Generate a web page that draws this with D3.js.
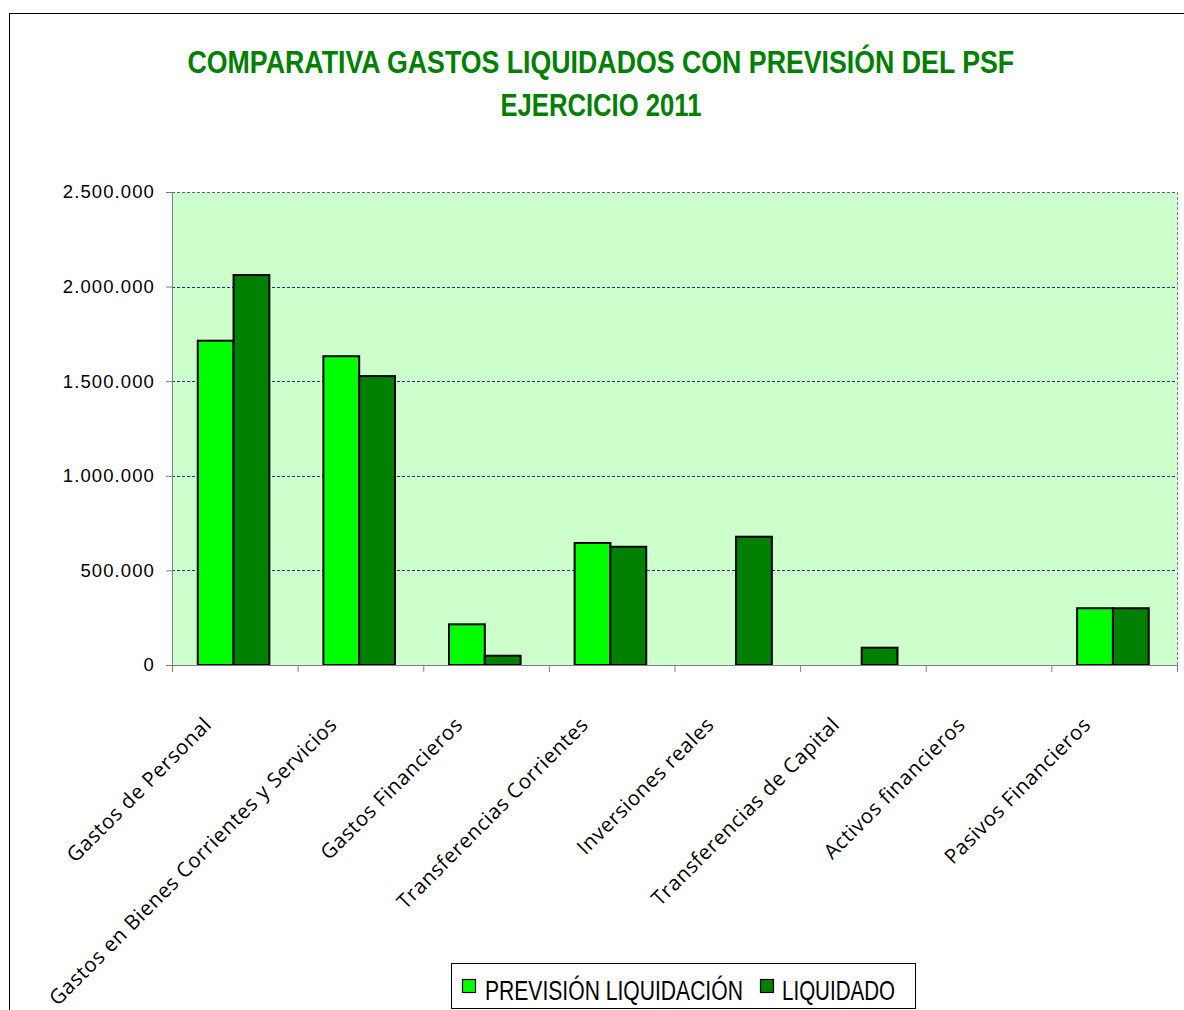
<!DOCTYPE html>
<html>
<head>
<meta charset="utf-8">
<script src="https://cdn.jsdelivr.net/npm/d3@7"></script>
<style>
  body { margin: 0; background: #fff; }
  svg { display: block; }
</style>
</head>
<body>
<div id="chart"></div>
<script>
// Data
const categories = [
  "Gastos de Personal",
  "Gastos en Bienes Corrientes y Servicios",
  "Gastos Financieros",
  "Transferencias Corrientes",
  "Inversiones reales",
  "Transferencias de Capital",
  "Activos financieros",
  "Pasivos Financieros"
];
const seriesNames = ["PREVISIÓN LIQUIDACIÓN", "LIQUIDADO"];
const prevision = [1714000, 1632000, 215000, 645000, 0, 0, 0, 300000];
const liquidado = [2061000, 1527000, 49000, 625000, 678000, 91500, 0, 300000];
const yTicks = [0, 500000, 1000000, 1500000, 2000000, 2500000];
const titleLines = ["COMPARATIVA GASTOS LIQUIDADOS CON PREVISIÓN DEL PSF", "EJERCICIO 2011"];

const WIDTH = 1184, HEIGHT = 1010;
const plot = { left: 172, top: 192, right: 1177, bottom: 665 };
const colors = ["#00ff00", "#008000"];

const fmt = d3.formatLocale({ decimal: ",", thousands: ".", grouping: [3], currency: ["", ""] }).format(",d");

// squeeze a text horizontally to a given width (emulates the narrow font)
function squeeze(sel, x, yPos, width, anchor) {
  sel.each(function () {
    const len = this.getComputedTextLength();
    const k = width / len;
    const x0 = anchor === "middle" ? x - width / 2 : x;
    d3.select(this)
      .attr("text-anchor", "start")
      .attr("x", 0).attr("y", 0)
      .attr("transform", `translate(${x0},${yPos}) scale(${k},1)`);
  });
}

const svg = d3.select("#chart").append("svg")
  .attr("width", WIDTH)
  .attr("height", HEIGHT);

// outer chart frame (extends past the right/bottom edges)
svg.append("rect")
  .attr("x", 9.5).attr("y", 13.5)
  .attr("width", 1300).attr("height", 1100)
  .attr("fill", "#fff").attr("stroke", "#000").attr("stroke-width", 1);

// title
const titleWidths = [827, 201];
const titleBase = [73, 116];
svg.append("g").selectAll("text")
  .data(titleLines)
  .join("text")
  .attr("font-family", "'Liberation Sans', Arial, sans-serif")
  .attr("font-weight", "bold")
  .attr("font-size", 31)
  .attr("fill", "#008000")
  .text(d => d)
  .each(function (d, i) {
    squeeze(d3.select(this), 601, titleBase[i], titleWidths[i], "middle");
  });

// scales
const x = d3.scaleBand()
  .domain(categories)
  .range([plot.left, plot.right]);
const bw = x.bandwidth();
const xSub = d3.scaleBand()
  .domain(seriesNames)
  .range([bw * 0.205, bw * 0.775]);
const y = d3.scaleLinear()
  .domain([0, 2500000])
  .range([plot.bottom, plot.top]);

// plot background
svg.append("rect")
  .attr("x", plot.left).attr("y", plot.top)
  .attr("width", plot.right - plot.left)
  .attr("height", plot.bottom - plot.top)
  .attr("fill", "#ccffcc");

// gridlines
svg.append("g")
  .selectAll("line")
  .data(yTicks.filter(d => d > 0))
  .join("line")
  .attr("x1", plot.left).attr("x2", plot.right)
  .attr("y1", d => Math.round(y(d)) + 0.5)
  .attr("y2", d => Math.round(y(d)) + 0.5)
  .attr("stroke", d => d === 2500000 ? "#5a6488" : "#22308f")
  .attr("stroke-dasharray", "3,2")
  .attr("stroke-width", 1);

// plot border (right side dashed gray)
svg.append("line")
  .attr("x1", plot.right + 0.5).attr("x2", plot.right + 0.5)
  .attr("y1", plot.top).attr("y2", plot.bottom)
  .attr("stroke", "#808080")
  .attr("stroke-dasharray", "3,2");

// bars
const rows = categories.map((c, i) => ({ cat: c, values: [prevision[i], liquidado[i]] }));
svg.append("g")
  .selectAll("g")
  .data(rows)
  .join("g")
  .attr("transform", d => `translate(${x(d.cat)},0)`)
  .selectAll("rect")
  .data(d => d.values.map((v, k) => ({ key: seriesNames[k], v, k })).filter(e => e.v > 0))
  .join("rect")
  .attr("x", d => xSub(d.key))
  .attr("y", d => y(d.v))
  .attr("width", xSub.bandwidth())
  .attr("height", d => y(0) - y(d.v))
  .attr("fill", d => colors[d.k])
  .attr("stroke", "#000")
  .attr("stroke-width", 2);

// y axis
const yAxis = svg.append("g")
  .attr("transform", `translate(${plot.left},0)`)
  .call(d3.axisLeft(y).tickValues(yTicks).tickFormat(fmt).tickSize(6).tickPadding(11));
yAxis.select(".domain").attr("stroke", "#808080");
yAxis.selectAll(".tick line").attr("stroke", "#808080");
yAxis.selectAll(".tick text")
  .attr("font-family", "'Liberation Sans', Arial, sans-serif")
  .attr("font-size", 18.5)
  .attr("letter-spacing", 1.1)
  .attr("fill", "#000");

// x axis: ticks on category boundaries
const xAxis = svg.append("g");
xAxis.append("line")
  .attr("x1", plot.left).attr("x2", plot.right + 1)
  .attr("y1", plot.bottom + 0.5).attr("y2", plot.bottom + 0.5)
  .attr("stroke", "#808080");
xAxis.selectAll(".xt")
  .data(d3.range(categories.length + 1))
  .join("line")
  .attr("class", "xt")
  .attr("x1", i => plot.left + i * bw + 0.5)
  .attr("x2", i => plot.left + i * bw + 0.5)
  .attr("y1", plot.bottom)
  .attr("y2", plot.bottom + 7)
  .attr("stroke", "#808080");

// rotated category labels, right end under each category
xAxis.selectAll(".xl")
  .data(categories)
  .join("text")
  .attr("class", "xl")
  .attr("text-anchor", "end")
  .attr("font-family", "'Open Sans', 'DejaVu Sans', sans-serif")
  .attr("font-size", 20.5)
  .attr("letter-spacing", 0.6)
  .attr("fill", "#000")
  .attr("transform", d => `translate(${x(d) + bw / 2 - 22},726) rotate(-45)`)
  .text(d => d);

// legend
const legend = svg.append("g");
legend.append("rect")
  .attr("x", 451.5).attr("y", 963.5)
  .attr("width", 464).attr("height", 45)
  .attr("fill", "#fff").attr("stroke", "#000").attr("stroke-width", 1);
const legX = [462, 760];
const legTextX = [485, 782];
const legTextW = [258, 113];
seriesNames.forEach((name, i) => {
  legend.append("rect")
    .attr("x", legX[i] + 0.5).attr("y", 979.5)
    .attr("width", 13).attr("height", 13)
    .attr("fill", colors[i]).attr("stroke", "#000").attr("stroke-width", 1.2);
  legend.append("text")
    .attr("font-family", "'Liberation Sans', Arial, sans-serif")
    .attr("font-size", 28)
    .attr("fill", "#000")
    .text(name)
    .call(squeeze, legTextX[i], 1000, legTextW[i], "start");
});
</script>
</body>
</html>
